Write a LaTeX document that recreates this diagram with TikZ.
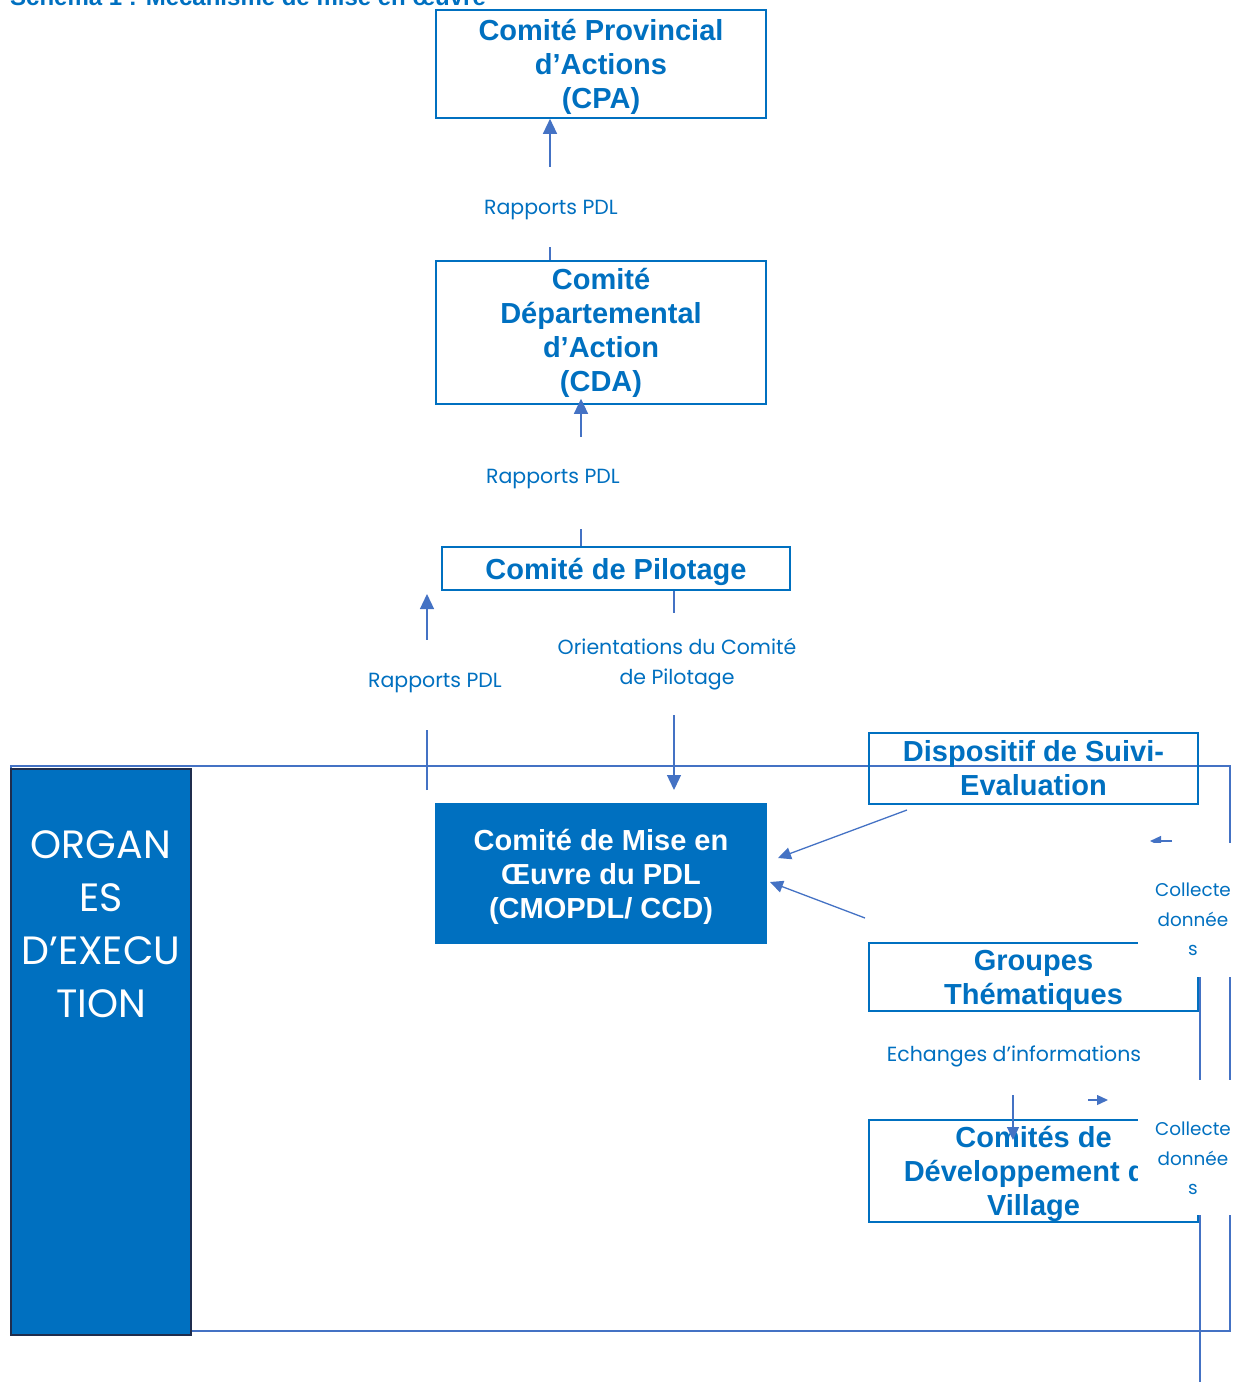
\documentclass[tikz,border=0pt]{standalone}
\usepackage{fontspec}
\setmainfont{Liberation Sans}
\newfontfamily\gothic{Poppins}
\usetikzlibrary{arrows.meta}
\definecolor{boxblue}{HTML}{0070C0}
\definecolor{linkblue}{HTML}{4472C4}
\definecolor{darkedge}{HTML}{1F2D4D}
\begin{document}
\begin{tikzpicture}[x=1pt,y=-1pt,
  box/.style={draw=boxblue, line width=1.6pt, text=boxblue, inner sep=0pt,
    font=\fontsize{29}{34}\selectfont\bfseries, align=center},
  fillbox/.style={box, fill=boxblue, text=white},
  tlow/.style={text depth=0pt},
  conn/.style={draw=linkblue, line width=1.3pt, -{Triangle[length=15pt,width=14pt]}},
  connsmall/.style={draw=linkblue, line width=1.3pt, -{Triangle[length=13pt,width=12pt]}},
  conntiny/.style={draw=linkblue, line width=1.3pt, -{Triangle[length=11pt,width=10pt]}},
  lbl/.style={fill=white, text=boxblue, inner xsep=2pt, inner ysep=0pt,
    font=\gothic\fontsize{20.5}{30}\selectfont, align=center},
  cover/.style={fill=white, inner sep=0pt},
  frame/.style={draw=linkblue, line width=2.4pt}
]
\useasboundingbox (0,0) rectangle (1235,1382);

% title (cut by the top edge)
\node[anchor=base west, text=boxblue, inner sep=0pt, font=\fontsize{24}{28}\selectfont\bfseries]
  (title) at (10,5) {Schéma 1 : Mécanisme de mise en œuvre};

% outer frame of the executing bodies
\node[frame, minimum width=1219pt, minimum height=565pt, inner sep=0pt] (frm) at (620.5,1048.5) {};

% ORGANES D'EXECUTION
\node[draw=darkedge, line width=1.2pt, fill=boxblue, minimum width=180pt, minimum height=566pt, inner sep=0pt]
  (org) at (101,1052) {};
\node[text=white, align=center, inner sep=0pt, font=\gothic\fontsize{39.5}{53}\selectfont]
  (orgtxt) at (101,924) {ORGAN\\ES\\D’EXECU\\TION};

% boxes
\node[box, tlow, minimum width=330pt, minimum height=108pt] (cpa) at (601,64) {Comité Provincial\\d’Actions\\(CPA)};
\node[box, minimum width=330pt, minimum height=143pt] (cda) at (601,332.5) {Comité\\Départemental\\d’Action\\(CDA)};
\node[box, tlow, minimum width=348pt, minimum height=43pt] (cp) at (616,568.5) {Comité de Pilotage};
\node[fillbox, tlow, minimum width=331pt, minimum height=139pt] (cmo) at (601,873.5) {Comité de Mise en\\Œuvre du PDL\\(CMOPDL/ CCD)};
\node[box, minimum width=329pt, minimum height=71pt] (dse) at (1033.5,768.5) {Dispositif de Suivi-\\Evaluation};
\node[box, tlow, minimum width=329pt, minimum height=68pt] (gt) at (1033.5,977) {Groupes\\Thématiques};
\node[box, tlow, minimum width=329pt, minimum height=102pt] (cdv) at (1033.5,1171) {Comités de\\Développement du\\Village};

% helper coordinates
\coordinate (x550) at (550,0);
\coordinate (x581) at (581,0);
\coordinate (x674) at (674,0);
\coordinate (x1013) at (1013,0);
\coordinate (rpA) at (427,790);
\coordinate (rpB) at (427,594);
\coordinate (orTip) at (674,790);
\coordinate (dseA) at (907,810);
\coordinate (dseB) at (778,858);
\coordinate (gtA) at (865,918);
\coordinate (gtB) at (770,882);
\coordinate (exTip) at (1013,1140);
\coordinate (c1A) at (1172,841);
\coordinate (c1B) at (1150,841);
\coordinate (c2A) at (1088,1100);
\coordinate (c2B) at (1108,1100);
\coordinate (vlA) at (1200,900);
\coordinate (vlB) at (1200,1400);

% connectors
\draw[conn] (cda.north -| x550) -- (cpa.south -| x550);
\draw[conn, shorten >=-6pt] (cp.north -| x581) -- (cda.south -| x581);
\draw[conn] (rpA) -- (rpB);
\draw[conn] (cp.south -| x674) -- (orTip);
\draw[connsmall] (dseA) -- (dseB);
\draw[connsmall] (gtA) -- (gtB);
\draw[connsmall] (gt.south -| x1013) -- (exTip);
\draw[conntiny] (c1A) -- (c1B);
\draw[conntiny] (c2A) -- (c2B);
\draw[draw=linkblue, line width=1.3pt] (vlA) -- (vlB);

% labels (white boxes hiding the middle of the connectors)
\node[lbl, anchor=north, text height=47pt, text depth=33pt] (l1) at (551,167) {Rapports PDL};
\node[lbl, anchor=north, text height=46pt, text depth=46pt] (l2) at (553,437) {Rapports PDL};
\node[lbl, anchor=north, text height=47pt, text depth=43pt] (l3) at (435,640) {Rapports PDL};
\node[lbl, anchor=north, minimum height=102pt] (l4) at (677,613) {Orientations du Comité\\de Pilotage};
\node[lbl, anchor=north, text height=49pt, text depth=34pt] (l5) at (1014,1012) {Echanges d’informations};

% "Collecte données" boxes
\node[cover, anchor=north west, minimum width=102pt, minimum height=134pt] (cov1) at (1138,843) {};
\node[text=boxblue, align=center, inner sep=0pt, font=\gothic\fontsize{18.4}{29.5}\selectfont] (col1) at (1193,919.5) {Collecte\\donnée\\s};
\node[cover, anchor=north west, minimum width=102pt, minimum height=135pt] (cov2) at (1138,1080) {};
\node[text=boxblue, align=center, inner sep=0pt, font=\gothic\fontsize{18.4}{29.5}\selectfont] (col2) at (1193,1158.5) {Collecte\\donnée\\s};
\end{tikzpicture}
\end{document}
